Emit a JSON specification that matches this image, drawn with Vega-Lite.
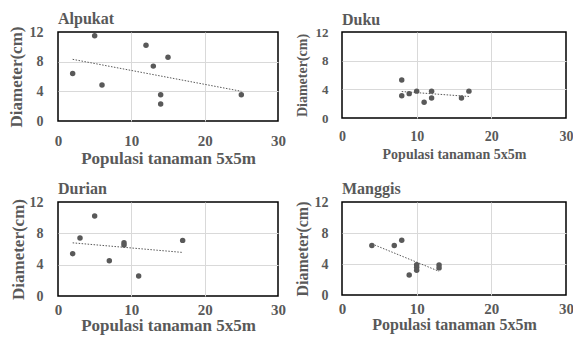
{
  "$schema": "https://vega.github.io/schema/vega-lite/v6.json",
  "padding": {"left": 6, "top": 10, "right": 2, "bottom": 2},
  "background": "white",
  "datasets": {
    "alpukat": [
      {"x": 5, "y": 11.5}, {"x": 2, "y": 6.4}, {"x": 6, "y": 4.85}, {"x": 12, "y": 10.2},
      {"x": 13, "y": 7.4}, {"x": 15, "y": 8.6}, {"x": 14, "y": 3.55}, {"x": 14, "y": 2.3}, {"x": 25, "y": 3.55}
    ],
    "duku": [
      {"x": 8, "y": 5.3}, {"x": 8, "y": 3.1}, {"x": 9, "y": 3.4}, {"x": 10, "y": 3.75},
      {"x": 11, "y": 2.2}, {"x": 12, "y": 3.75}, {"x": 12, "y": 2.8}, {"x": 16, "y": 2.8}, {"x": 17, "y": 3.75}
    ],
    "durian": [
      {"x": 2, "y": 5.4}, {"x": 3, "y": 7.4}, {"x": 5, "y": 10.2}, {"x": 7, "y": 4.5},
      {"x": 9, "y": 6.8}, {"x": 9, "y": 6.5}, {"x": 11, "y": 2.56}, {"x": 17, "y": 7.1}
    ],
    "manggis": [
      {"x": 4, "y": 6.4}, {"x": 7, "y": 6.4}, {"x": 8, "y": 7.06}, {"x": 9, "y": 2.58},
      {"x": 10, "y": 3.9}, {"x": 10, "y": 3.57}, {"x": 10, "y": 3.2}, {"x": 13, "y": 3.87}, {"x": 13, "y": 3.5}
    ]
  },
  "columns": 2,
  "bounds": "flush",
  "spacing": {"column": 64, "row": 81},
  "concat": [
    {
      "title": {"text": "Alpukat", "fontSize": 16},
      "width": 220, "height": 89,
      "view": {"stroke": "#000000", "strokeWidth": 1.5},
      "data": {"name": "alpukat"},
      "encoding": {
        "x": {"field": "x", "type": "quantitative", "scale": {"domain": [0, 30], "nice": false},
              "axis": {"values": [0, 10, 20, 30], "title": "Populasi tanaman 5x5m", "labelFontSize": 15, "titleFontSize": 17, "labelPadding": 12, "titlePadding": 2,
                       "gridOpacity": {"condition": {"test": "datum.value == 0 || datum.value == 30", "value": 0}, "value": 1}}},
        "y": {"field": "y", "type": "quantitative", "scale": {"domain": [0, 12], "nice": false},
              "axis": {"values": [0, 4, 8, 12], "title": "Diameter(cm)", "labelFontSize": 14, "titleFontSize": 17, "labelPadding": 15, "titlePadding": 4,
                       "gridOpacity": {"condition": {"test": "datum.value == 0 || datum.value == 12", "value": 0}, "value": 1}}}
      },
      "layer": [
        {"mark": {"type": "point", "filled": true, "size": 30, "color": "#595959", "opacity": 1}},
        {"transform": [{"regression": "y", "on": "x"}],
         "mark": {"type": "line", "color": "#595959", "strokeDash": [1.5, 1.5], "strokeWidth": 1}}
      ]
    },
    {
      "title": {"text": "Duku", "fontSize": 16},
      "width": 224, "height": 86,
      "view": {"stroke": "#000000", "strokeWidth": 1.5},
      "data": {"name": "duku"},
      "encoding": {
        "x": {"field": "x", "type": "quantitative", "scale": {"domain": [0, 30], "nice": false},
              "axis": {"values": [0, 10, 20, 30], "title": "Populasi tanaman 5x5m", "labelFontSize": 14, "titleFontSize": 14, "labelPadding": 11, "titlePadding": 4,
                       "gridOpacity": {"condition": {"test": "datum.value == 0 || datum.value == 30", "value": 0}, "value": 1}}},
        "y": {"field": "y", "type": "quantitative", "scale": {"domain": [0, 12], "nice": false},
              "axis": {"values": [0, 4, 8, 12], "title": "Diameter(cm)", "labelFontSize": 13, "titleFontSize": 14, "labelPadding": 14, "titlePadding": 6,
                       "gridOpacity": {"condition": {"test": "datum.value == 0 || datum.value == 12", "value": 0}, "value": 1}}}
      },
      "layer": [
        {"mark": {"type": "point", "filled": true, "size": 30, "color": "#595959", "opacity": 1}},
        {"transform": [{"regression": "y", "on": "x"}],
         "mark": {"type": "line", "color": "#595959", "strokeDash": [1.5, 1.5], "strokeWidth": 1}}
      ]
    },
    {
      "title": {"text": "Durian", "fontSize": 16},
      "width": 220, "height": 94,
      "view": {"stroke": "#000000", "strokeWidth": 1.5},
      "data": {"name": "durian"},
      "encoding": {
        "x": {"field": "x", "type": "quantitative", "scale": {"domain": [0, 30], "nice": false},
              "axis": {"values": [0, 10, 20, 30], "title": "Populasi tanaman 5x5m", "labelFontSize": 15, "titleFontSize": 17, "labelPadding": 6, "titlePadding": 0,
                       "gridOpacity": {"condition": {"test": "datum.value == 0 || datum.value == 30", "value": 0}, "value": 1}}},
        "y": {"field": "y", "type": "quantitative", "scale": {"domain": [0, 12], "nice": false},
              "axis": {"values": [0, 4, 8, 12], "title": "Diameter(cm)", "labelFontSize": 14, "titleFontSize": 17, "labelPadding": 15, "titlePadding": 2,
                       "gridOpacity": {"condition": {"test": "datum.value == 0 || datum.value == 12", "value": 0}, "value": 1}}}
      },
      "layer": [
        {"mark": {"type": "point", "filled": true, "size": 30, "color": "#595959", "opacity": 1}},
        {"transform": [{"regression": "y", "on": "x"}],
         "mark": {"type": "line", "color": "#595959", "strokeDash": [1.5, 1.5], "strokeWidth": 1}}
      ]
    },
    {
      "title": {"text": "Manggis", "fontSize": 16},
      "width": 224, "height": 93,
      "view": {"stroke": "#000000", "strokeWidth": 1.5},
      "data": {"name": "manggis"},
      "encoding": {
        "x": {"field": "x", "type": "quantitative", "scale": {"domain": [0, 30], "nice": false},
              "axis": {"values": [0, 10, 20, 30], "title": "Populasi tanaman 5x5m", "labelFontSize": 15, "titleFontSize": 16, "labelPadding": 6, "titlePadding": 0,
                       "gridOpacity": {"condition": {"test": "datum.value == 0 || datum.value == 30", "value": 0}, "value": 1}}},
        "y": {"field": "y", "type": "quantitative", "scale": {"domain": [0, 12], "nice": false},
              "axis": {"values": [0, 4, 8, 12], "title": "Diameter(cm)", "labelFontSize": 14, "titleFontSize": 16, "labelPadding": 14, "titlePadding": 4,
                       "gridOpacity": {"condition": {"test": "datum.value == 0 || datum.value == 12", "value": 0}, "value": 1}}}
      },
      "layer": [
        {"mark": {"type": "point", "filled": true, "size": 30, "color": "#595959", "opacity": 1}},
        {"transform": [{"regression": "y", "on": "x"}],
         "mark": {"type": "line", "color": "#595959", "strokeDash": [1.5, 1.5], "strokeWidth": 1}}
      ]
    }
  ],
  "config": {
    "font": "Liberation Serif",
    "view": {"stroke": "#000000", "strokeWidth": 1.5},
    "title": {"anchor": "start", "frame": "group", "font": "Liberation Serif", "fontWeight": "bold", "color": "#595959", "offset": -2},
    "axis": {
      "grid": true, "gridColor": "#d9d9d9", "gridWidth": 1,
      "domain": false, "ticks": false,
      "labelFont": "Liberation Serif", "labelFontWeight": "bold", "labelColor": "#595959",
      "titleFont": "Liberation Serif", "titleFontWeight": "bold", "titleColor": "#595959",
      "labelFlush": false, "labelOverlap": false
    }
  }
}
